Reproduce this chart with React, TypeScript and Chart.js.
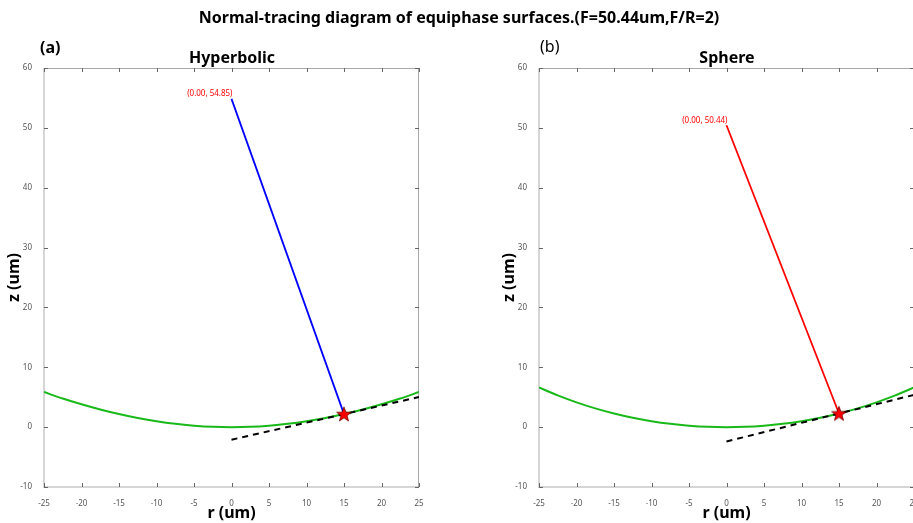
import React, { useEffect, useRef } from "react";
import { Chart, registerables } from "chart.js";
Chart.register(...registerables);

const FONT = "'Noto Sans', 'Open Sans', sans-serif";

// Surface profile sample positions (um)
const rSamples = [-25, -22.5, -20, -17.5, -15, -12.5, -10, -7.5, -5, -2.5, 0, 2.5, 5, 7.5, 10, 12.5, 15, 17.5, 20, 22.5, 25];
const zHyperbolic = [5.86, 4.79, 3.82, 2.95, 2.18, 1.53, 0.98, 0.55, 0.25, 0.06, 0, 0.06, 0.25, 0.55, 0.98, 1.53, 2.18, 2.95, 3.82, 4.79, 5.86];
const zSphere = [6.63, 5.30, 4.14, 3.13, 2.28, 1.57, 1.0, 0.56, 0.25, 0.06, 0, 0.06, 0.25, 0.56, 1.0, 1.57, 2.28, 3.13, 4.14, 5.30, 6.63];

// Normal lines (from axis point to surface point)
const normalR = [0, 15];
const hypNormalZ = [54.85, 2.18];
const sphNormalZ = [50.44, 2.28];

// Tangent lines at the surface point
const tangentR = [0, 25];
const hypTangentZ = [-2.10, 5.03];
const sphTangentZ = [-2.39, 5.39];

// Marked surface points
const markR = [15];
const hypMarkZ = [2.18];
const sphMarkZ = [2.28];

const xTicks = [-25, -20, -15, -10, -5, 0, 5, 10, 15, 20, 25];
const yTicks = [-10, 0, 10, 20, 30, 40, 50, 60];

function makeStar(): HTMLCanvasElement {
  const c = document.createElement("canvas");
  c.width = 18;
  c.height = 18;
  const ctx = c.getContext("2d")!;
  const cx = 9, cy = 9.6, R = 7.8, r = 3.2;
  ctx.beginPath();
  for (let i = 0; i < 10; i++) {
    const ang = -Math.PI / 2 + (i * Math.PI) / 5;
    const rad = i % 2 === 0 ? R : r;
    const x = cx + rad * Math.cos(ang);
    const y = cy + rad * Math.sin(ang);
    if (i === 0) ctx.moveTo(x, y);
    else ctx.lineTo(x, y);
  }
  ctx.closePath();
  ctx.fillStyle = "#ff0000";
  ctx.fill();
  ctx.strokeStyle = "#5a0000";
  ctx.lineWidth = 0.7;
  ctx.stroke();
  return c;
}

const framePlugin = {
  id: "frame",
  beforeDatasetsDraw(chart: any) {
    const { ctx, chartArea: a, scales } = chart;
    ctx.save();
    ctx.strokeStyle = "#d6d6d6";
    ctx.lineWidth = 2;
    ctx.beginPath();
    ctx.moveTo(a.left, a.top);
    ctx.lineTo(a.left, a.bottom);
    ctx.lineTo(a.right, a.bottom);
    ctx.stroke();
    ctx.strokeStyle = "#a8a8a8";
    ctx.lineWidth = 1;
    ctx.beginPath();
    ctx.moveTo(a.left, a.top + 0.5);
    ctx.lineTo(a.right - 0.5, a.top + 0.5);
    ctx.lineTo(a.right - 0.5, a.bottom);
    ctx.stroke();
    ctx.strokeStyle = "#666";
    ctx.lineWidth = 1;
    ctx.beginPath();
    for (const v of xTicks) {
      const px = Math.round(scales.x.getPixelForValue(v)) + 0.5;
      ctx.moveTo(px, a.bottom);
      ctx.lineTo(px, a.bottom - 4);
      ctx.moveTo(px, a.top);
      ctx.lineTo(px, a.top + 4);
    }
    for (const v of yTicks) {
      const py = Math.round(scales.y.getPixelForValue(v)) + 0.5;
      ctx.moveTo(a.left, py);
      ctx.lineTo(a.left + 4, py);
      ctx.moveTo(a.right, py);
      ctx.lineTo(a.right - 4, py);
    }
    ctx.stroke();
    ctx.restore();
  },
  afterDraw(chart: any) {
    const opts = chart.options.plugins.pointLabel;
    if (!opts) return;
    const { ctx, scales } = chart;
    const px = scales.x.getPixelForValue(opts.x);
    const py = scales.y.getPixelForValue(opts.y);
    ctx.save();
    ctx.fillStyle = "#ff0000";
    ctx.font = `8px ${FONT}`;
    ctx.textAlign = "right";
    ctx.textBaseline = "bottom";
    ctx.fillText(opts.text, px + 1, py - 1);
    ctx.restore();
  },
};

function pts(xs: number[], ys: number[]) {
  return xs.map((x, i) => ({ x, y: ys[i] }));
}

function Panel({ left, zCurve, normalZ, tangentZ, markZ, normalColor, label }: any) {
  const ref = useRef<HTMLCanvasElement>(null);
  useEffect(() => {
    const star = makeStar();
    const chart = new Chart(ref.current!, {
      type: "scatter",
      data: {
        datasets: [
          {
            data: pts(markR, markZ),
            showLine: false,
            pointStyle: star as any,
            pointRadius: 8,
            order: 0,
          },
          {
            data: pts(normalR, normalZ),
            showLine: true,
            borderColor: normalColor,
            borderWidth: 1.8,
            pointRadius: 0,
            order: 1,
          },
          {
            data: pts(tangentR, tangentZ),
            showLine: true,
            borderColor: "#000",
            borderWidth: 2,
            borderDash: [6, 5],
            pointRadius: 0,
            order: 2,
          },
          {
            data: pts(rSamples, zCurve),
            showLine: true,
            borderColor: "rgb(25,185,25)",
            borderWidth: 2,
            pointRadius: 0,
            tension: 0.3,
            order: 3,
          },
        ],
      },
      options: {
        animation: false,
        responsive: false,
        devicePixelRatio: 1,
        layout: { padding: { top: 68, right: 37, left: 0, bottom: 0 } },
        plugins: {
          legend: { display: false },
          tooltip: { enabled: false },
          pointLabel: label,
        } as any,
        scales: {
          x: {
            type: "linear",
            min: -25,
            max: 25,
            afterBuildTicks: (s: any) => {
              s.ticks = xTicks.map((v) => ({ value: v }));
            },
            afterFit: (s: any) => {
              s.height = 36;
            },
            ticks: {
              font: { size: 8, family: FONT },
              color: "#555",
              padding: 4,
              maxRotation: 0,
              autoSkip: false,
            },
            grid: { display: false },
            border: { display: false },
            title: {
              display: true,
              text: "r (um)",
              font: { size: 16, weight: "bold", family: FONT },
              color: "#000",
              padding: { top: 0, bottom: 0 },
            },
          },
          y: {
            type: "linear",
            min: -10,
            max: 60,
            afterBuildTicks: (s: any) => {
              s.ticks = yTicks.map((v) => ({ value: v }));
            },
            afterFit: (s: any) => {
              s.width = 44;
            },
            ticks: {
              font: { size: 8, family: FONT },
              color: "#555",
              padding: 4,
              autoSkip: false,
            },
            grid: { display: false },
            border: { display: false },
            title: {
              display: true,
              text: "z (um)",
              font: { size: 16, weight: "bold", family: FONT },
              color: "#000",
              padding: { top: 5, bottom: 0 },
            },
          },
        },
      },
      plugins: [framePlugin],
    } as any);
    return () => chart.destroy();
  }, []);
  return (
    <canvas
      ref={ref}
      width={456}
      height={523}
      style={{ position: "absolute", left, top: 0, width: 456, height: 523, display: "block" }}
    />
  );
}

const textStyle = (x: number, y: number, size: number, weight: string, center = true): React.CSSProperties => ({
  position: "absolute",
  left: x,
  top: y,
  transform: center ? "translate(-50%, -50%)" : "translate(0, -50%)",
  fontFamily: FONT,
  fontSize: size,
  fontWeight: weight as any,
  whiteSpace: "nowrap",
  lineHeight: 1,
  color: "#000",
});

export default function App() {
  return (
    <div
      style={{
        position: "fixed",
        left: 0,
        top: 0,
        width: 913,
        height: 523,
        overflow: "hidden",
        background: "#fff",
      }}
    >
      <Panel
        left={0}
        zCurve={zHyperbolic}
        normalZ={hypNormalZ}
        tangentZ={hypTangentZ}
        markZ={hypMarkZ}
        normalColor="#0000ff"
        label={{ x: 0, y: 54.85, text: "(0.00, 54.85)" }}
      />
      <Panel
        left={495}
        zCurve={zSphere}
        normalZ={sphNormalZ}
        tangentZ={sphTangentZ}
        markZ={sphMarkZ}
        normalColor="#ff0000"
        label={{ x: 0, y: 50.44, text: "(0.00, 50.44)" }}
      />
      <div style={textStyle(459, 17, 16, "bold")}>
        Normal-tracing diagram of equiphase surfaces.(F=50.44um,F/R=2)
      </div>
      <div style={textStyle(40, 47, 16, "bold", false)}>(a)</div>
      <div style={textStyle(232, 57, 16, "bold")}>Hyperbolic</div>
      <div style={textStyle(540, 46, 16, "normal", false)}>(b)</div>
      <div style={textStyle(727, 57, 16, "bold")}>Sphere</div>
    </div>
  );
}
